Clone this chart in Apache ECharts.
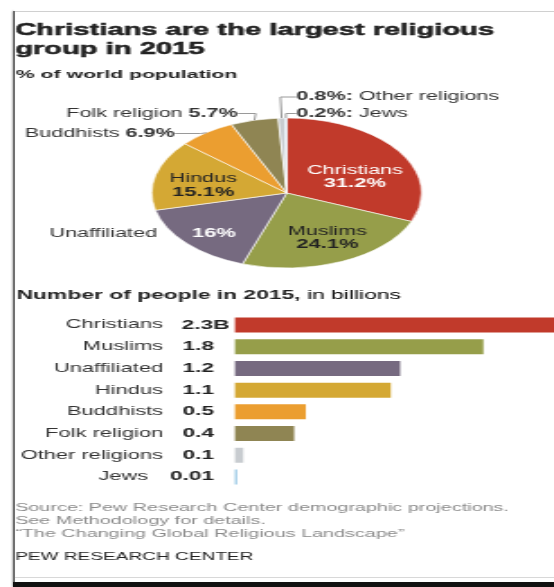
<!DOCTYPE html>
<html>
<head>
<meta charset="utf-8">
<script src="https://cdn.jsdelivr.net/npm/echarts@6/dist/echarts.min.js"></script>
<style>
html,body{margin:0;padding:0;background:#fff;width:554px;height:587px;overflow:hidden;position:relative}
#wrap{position:absolute;left:0;top:0;width:308px;height:587px;transform:scaleX(1.7987);transform-origin:0 0}
#chart{width:308px;height:587px}
#frameTop{position:absolute;left:14px;top:11px;width:540px;height:1px;background:#d0d0d0}
#frameLeft{position:absolute;left:13px;top:11px;width:2px;height:576px;background:#707070;box-shadow:-1px 0 2px #b0b0b0}
#frameLine{position:absolute;left:15px;top:577px;width:539px;height:1px;background:#d8d8d8}
#frameBottom{position:absolute;left:13px;top:582px;width:541px;height:5px;background:#111}
</style>
</head>
<body>
<div id="wrap"><div id="chart"></div></div>
<div id="frameTop"></div>
<div id="frameLeft"></div>
<div id="frameLine"></div>
<div id="frameBottom"></div>
<script>
// ---------- data ----------
const titleLines = ['Christians are the largest religious', 'group in 2015'];
const pieSubtitle = '% of world population';
const pieNames = ['Christians', 'Muslims', 'Unaffiliated', 'Hindus', 'Buddhists', 'Folk religion', 'Other religions', 'Jews'];
const pieShares = [31.2, 24.1, 16, 15.1, 6.9, 5.7, 0.8, 0.2];
const barHeaderBold = 'Number of people in 2015,';
const barHeaderRest = ' in billions';
const barCategories = ['Christians', 'Muslims', 'Unaffiliated', 'Hindus', 'Buddhists', 'Folk religion', 'Other religions', 'Jews'];
const barValues = [2.276, 1.752, 1.165, 1.099, 0.500, 0.418, 0.059, 0.014];
const barValueLabels = ['2.3B', '1.8', '1.2', '1.1', '0.5', '0.4', '0.1', '0.01'];
const sourceLines = ['Source: Pew Research Center demographic projections.', 'See Methodology for details.', '\u201cThe Changing Global Religious Landscape\u201d'];
const creditLine = 'PEW RESEARCH CENTER';

// ---------- styling ----------
const palette = ['#C13A2B', '#969E4A', '#766A80', '#D4A834', '#EB9E30', '#8F8553', '#C8CCD0', '#8CC0E2'];
const FONT = '"Liberation Sans", Arial, sans-serif';
const DARK = '#222';
const pct = v => v + '%';

// label anchor positions (text only), per series / data index
const labelPos = [
  { 0: [197.3, 177, 'center'], 1: [182, 238, 'center'], 2: [119, 233.5, 'center'], 3: [113, 185.5, 'center'] },
  { 2: [87.3, 233.5, 'right'], 4: [97.2, 133.5, 'right'], 5: [132.2, 113.5, 'right'], 6: [164.8, 97, 'left'], 7: [164.8, 113.5, 'left'] }
];
const lineLen = { 4: 14.5, 5: 10, 6: 8.9, 7: 5.9 };

const innerRich = {
  n: { fontSize: 12, fontFamily: FONT, lineHeight: 13.5 },
  p: { fontSize: 12.2, fontWeight: 'bold', fontFamily: FONT, lineHeight: 13.5 }
};
function innerLabel(i) {
  const light = (i === 0 || i === 2);
  const col = light ? '#fff' : DARK;
  const rich = { n: Object.assign({ color: col }, innerRich.n), p: Object.assign({ color: col }, innerRich.p) };
  if (i > 3) return { show: false };
  const txt = i === 2 ? '{p|' + pct(pieShares[i]) + '}' : '{n|' + pieNames[i] + '}\n{p|' + pct(pieShares[i]) + '}';
  return { show: true, position: 'inside', formatter: txt, rich: rich };
}
function outerLabel(i) {
  const rich = {
    r: { fontSize: 12, fontFamily: FONT, color: '#333' },
    b: { fontSize: 12, fontFamily: FONT, fontWeight: 'bold', color: '#333' }
  };
  let txt = null;
  if (i === 2) txt = '{r|' + pieNames[i] + '}';
  else if (i === 4 || i === 5) txt = '{r|' + pieNames[i] + ' }{b|' + pct(pieShares[i]) + '}';
  else if (i === 6) txt = '{b|' + pct(pieShares[i]) + ':}{r| Other religions}';
  else if (i === 7) txt = '{b|' + pct(pieShares[i]) + ':}{r| ' + pieNames[i] + '}';
  if (!txt) return { show: false };
  return { show: true, position: 'outside', formatter: txt, rich: rich };
}

const layoutFn = function (params) {
  const m = labelPos[params.seriesIndex];
  const p = m && m[params.dataIndex];
  if (!p) return {};
  return { x: p[0], y: p[1], align: p[2], verticalAlign: 'middle' };
};

const chart = echarts.init(document.getElementById('chart'), null, { renderer: 'canvas' });
const option = {
  animation: false,
  textStyle: { fontFamily: FONT },
  graphic: [
    { type: 'text', x: 8.4, y: 30.3, style: { text: titleLines[0], fontSize: 16.2, fontWeight: 'bold', fontFamily: FONT, fill: DARK, stroke: DARK, lineWidth: 0.5, verticalAlign: 'middle' } },
    { type: 'text', x: 8.4, y: 49.2, style: { text: titleLines[1], fontSize: 16.2, fontWeight: 'bold', fontFamily: FONT, fill: DARK, stroke: DARK, lineWidth: 0.5, verticalAlign: 'middle' } },
    { type: 'text', x: 8.8, y: 75, style: { text: pieSubtitle, fontSize: 11.8, fontWeight: 'bold', fontFamily: FONT, fill: DARK, verticalAlign: 'middle' } },
    { type: 'text', x: 9.2, y: 295.5, style: { text: '{b|' + barHeaderBold + '}{r|' + barHeaderRest + '}', verticalAlign: 'middle',
        rich: { b: { fontSize: 12.7, fontWeight: 'bold', fontFamily: FONT, fill: DARK, color: DARK }, r: { fontSize: 12.7, fontFamily: FONT, color: '#333' } } } },
    { type: 'text', x: 8.4, y: 507.5, style: { text: sourceLines[0], fontSize: 11, fontFamily: FONT, fill: '#8a8a8a', verticalAlign: 'middle' } },
    { type: 'text', x: 8.4, y: 521, style: { text: sourceLines[1], fontSize: 11, fontFamily: FONT, fill: '#8a8a8a', verticalAlign: 'middle' } },
    { type: 'text', x: 8.4, y: 534, style: { text: sourceLines[2], fontSize: 11, fontFamily: FONT, fill: '#8a8a8a', verticalAlign: 'middle' } },
    { type: 'text', x: 8.4, y: 557.5, style: { text: creditLine, fontSize: 10.6, fontFamily: FONT, fill: DARK, verticalAlign: 'middle' } }
  ],
  grid: { left: 130.6, right: 0, top: 314.2, height: 173.6, containLabel: false, outerBoundsMode: 'none' },
  xAxis: { type: 'value', min: 0, max: 2.25, show: false },
  yAxis: {
    type: 'category', inverse: true, data: barCategories,
    axisLine: { show: false }, axisTick: { show: false }, splitLine: { show: false },
    axisLabel: {
      margin: 39.9, fontSize: 12.2, color: '#333', fontFamily: FONT,
      formatter: v => (v === 'Jews' ? '{j|' + v + '}' : v),
      rich: { j: { padding: [0, 8.3, 0, 0], fontSize: 12.2, color: '#333', fontFamily: FONT } }
    }
  },
  series: [
    {
      type: 'pie', center: [159.4, 193], radius: [0, 75], startAngle: 90, clockwise: true,
      avoidLabelOverlap: false, silent: true,
      itemStyle: { borderColor: '#fff', borderWidth: 0.6 },
      labelLine: { show: false },
      labelLayout: layoutFn,
      data: pieNames.map((n, i) => ({ name: n, value: pieShares[i], itemStyle: { color: palette[i] }, label: innerLabel(i) }))
    },
    {
      type: 'pie', center: [159.4, 193], radius: [0, 75], startAngle: 90, clockwise: true,
      avoidLabelOverlap: false, silent: true, z: 3,
      itemStyle: { color: 'rgba(0,0,0,0)', borderWidth: 0 },
      labelLine: { show: true, length: 4, length2: 8, minTurnAngle: 80, lineStyle: { color: '#9a9a9a', width: 1 } },
      labelLayout: layoutFn,
      data: pieNames.map((n, i) => ({
        name: n, value: pieShares[i], label: outerLabel(i),
        labelLine: (lineLen[i] != null) ? { show: true, length2: lineLen[i] } : { show: false }
      }))
    },
    {
      type: 'bar', barWidth: 15, silent: true,
      data: barValues.map((v, i) => {
        const item = { value: v, itemStyle: { color: palette[i] } };
        if (barValueLabels[i].endsWith('B')) item.label = { offset: [8.7, 0] };
        return item;
      }),
      label: {
        show: true, position: 'left', distance: 11.7,
        formatter: p => barValueLabels[p.dataIndex],
        fontWeight: 'bold', fontSize: 12.6, color: DARK, fontFamily: FONT
      }
    }
  ]
};
chart.setOption(option);
</script>
</body>
</html>
